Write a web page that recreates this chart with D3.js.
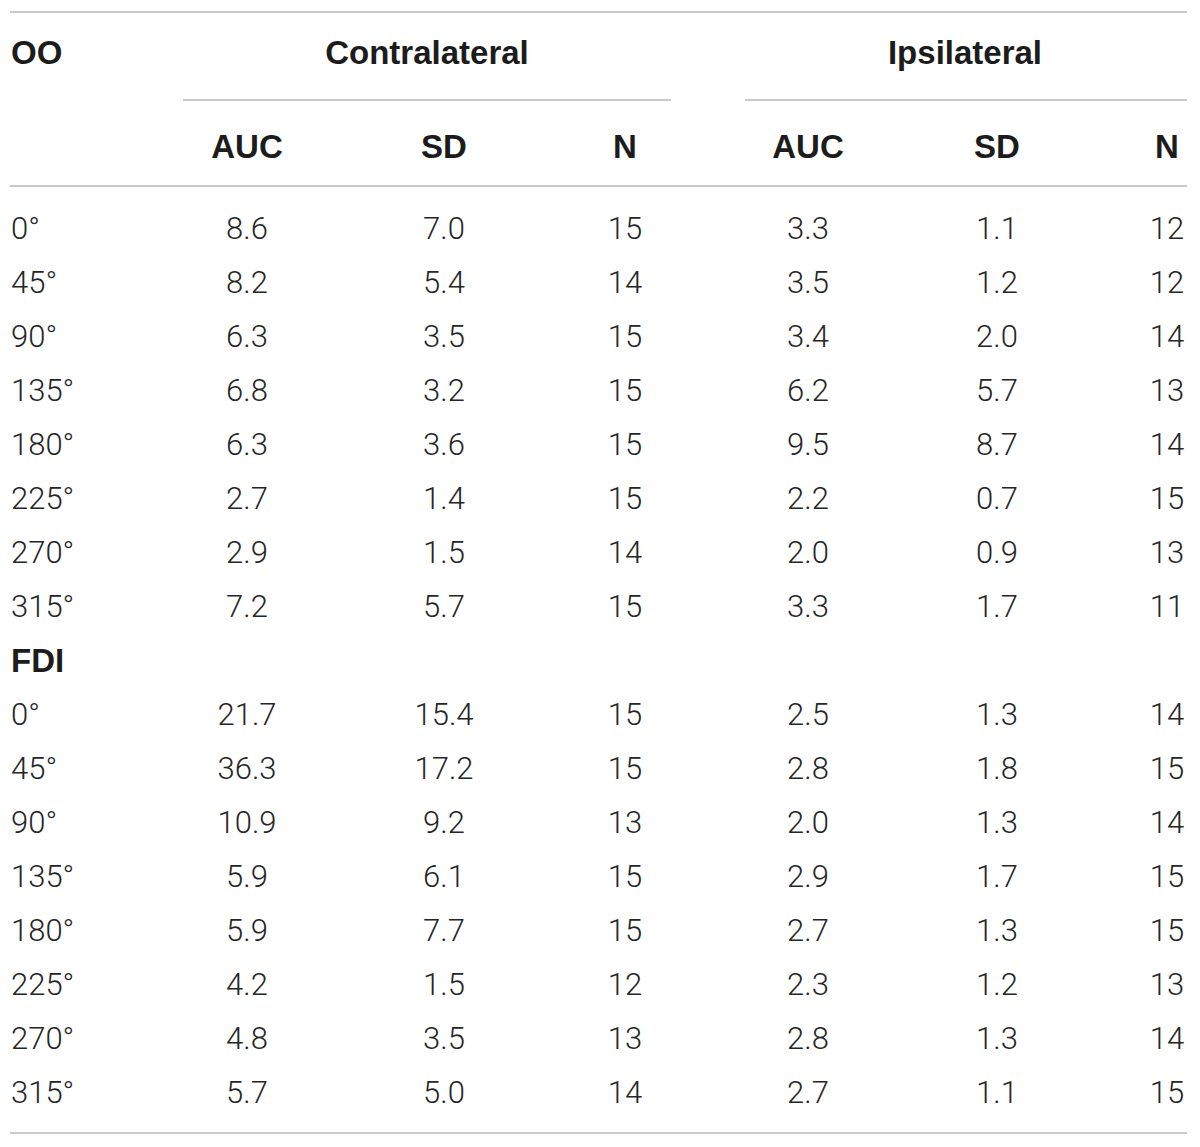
<!DOCTYPE html>
<html><head><meta charset="utf-8">
<script src="https://cdn.jsdelivr.net/npm/d3@7"></script>
<style>
html,body{margin:0;padding:0;background:#fff;}
svg{display:block;}
.body{font-family:Roboto,"Liberation Sans",sans-serif;font-weight:300;fill:#262626;}
.head{font-family:"Liberation Sans",Arial,sans-serif;font-weight:700;fill:#1c1c1c;}
</style></head>
<body>
<script>
const angles = ["0°","45°","90°","135°","180°","225°","270°","315°"];
const groups = ["OO","FDI"];
const sides = ["Contralateral","Ipsilateral"];
const measures = ["AUC","SD","N"];

const ooContraAUC = [8.6, 8.2, 6.3, 6.8, 6.3, 2.7, 2.9, 7.2];
const ooContraSD  = [7.0, 5.4, 3.5, 3.2, 3.6, 1.4, 1.5, 5.7];
const ooContraN   = [15, 14, 15, 15, 15, 15, 14, 15];
const ooIpsiAUC   = [3.3, 3.5, 3.4, 6.2, 9.5, 2.2, 2.0, 3.3];
const ooIpsiSD    = [1.1, 1.2, 2.0, 5.7, 8.7, 0.7, 0.9, 1.7];
const ooIpsiN     = [12, 12, 14, 13, 14, 15, 13, 11];

const fdiContraAUC = [21.7, 36.3, 10.9, 5.9, 5.9, 4.2, 4.8, 5.7];
const fdiContraSD  = [15.4, 17.2, 9.2, 6.1, 7.7, 1.5, 3.5, 5.0];
const fdiContraN   = [15, 15, 13, 15, 15, 12, 13, 14];
const fdiIpsiAUC   = [2.5, 2.8, 2.0, 2.9, 2.7, 2.3, 2.8, 2.7];
const fdiIpsiSD    = [1.3, 1.8, 1.3, 1.7, 1.3, 1.2, 1.3, 1.1];
const fdiIpsiN     = [14, 15, 14, 15, 15, 13, 14, 15];

const W = 1200, H = 1147;
const svg = d3.select("body").append("svg").attr("width", W).attr("height", H);

const rowKeys = [];
angles.forEach((a,i)=>rowKeys.push("OO-"+i));
rowKeys.push("FDI-label");
angles.forEach((a,i)=>rowKeys.push("FDI-"+i));

const y = d3.scalePoint().domain(rowKeys).range([228, 1092]);
const colKeys = ["Contralateral-AUC","Contralateral-SD","Contralateral-N","Ipsilateral-AUC","Ipsilateral-SD","Ipsilateral-N"];
const colX = d3.scaleOrdinal().domain(colKeys).range([247, 444, 625, 808, 997, 1167]);
const sideX = d3.scaleOrdinal().domain(sides).range([427, 965]);
const sideSpan = d3.scaleOrdinal().domain(sides).range([[183,671],[745,1187]]);

const FS = 31, HFS = 33;
const lineColor = "#cacaca";

function hline(x1,x2,yy){
  svg.append("line").attr("x1",x1).attr("x2",x2).attr("y1",yy).attr("y2",yy)
    .attr("stroke",lineColor).attr("stroke-width",2);
}
hline(10,1187,12);
hline(10,1187,186);
hline(10,1187,1133);
sides.forEach(s=>{ const sp = sideSpan(s); hline(sp[0], sp[1], 100); });

svg.append("text").attr("class","head").attr("x",11).attr("y",52)
  .attr("dominant-baseline","central").attr("font-size",HFS).text(groups[0]);
svg.selectAll("text.side").data(sides).join("text").attr("class","head side")
  .attr("x",d=>sideX(d)).attr("y",52).attr("text-anchor","middle")
  .attr("dominant-baseline","central").attr("font-size",HFS).text(d=>d);
svg.selectAll("text.meas").data(colKeys).join("text").attr("class","head meas")
  .attr("x",d=>colX(d)).attr("y",146).attr("text-anchor","middle")
  .attr("dominant-baseline","central").attr("font-size",HFS).text(d=>d.split("-")[1]);

svg.append("text").attr("class","head").attr("x",11).attr("y",y("FDI-label"))
  .attr("dominant-baseline","central").attr("font-size",HFS).text(groups[1]);

const fmt1 = d3.format(".1f");
const tables = {
  "OO":[ooContraAUC, ooContraSD, ooContraN, ooIpsiAUC, ooIpsiSD, ooIpsiN],
  "FDI":[fdiContraAUC, fdiContraSD, fdiContraN, fdiIpsiAUC, fdiIpsiSD, fdiIpsiN]
};
const cells = [];
groups.forEach(g=>{
  angles.forEach((a,i)=>{
    cells.push({key:g+"-"+i, text:a, x:11, anchor:"start"});
    tables[g].forEach((arr,c)=>{
      const isN = c%3===2;
      cells.push({key:g+"-"+i, x:colX(colKeys[c]), anchor:"middle", text: isN ? String(arr[i]) : fmt1(arr[i])});
    });
  });
});
svg.selectAll("text.cell").data(cells).join("text").attr("class","body cell")
  .attr("x",d=>d.x).attr("y",d=>y(d.key)).attr("text-anchor",d=>d.anchor)
  .attr("dominant-baseline","central").attr("font-size",FS).text(d=>d.text);
</script>
</body></html>
